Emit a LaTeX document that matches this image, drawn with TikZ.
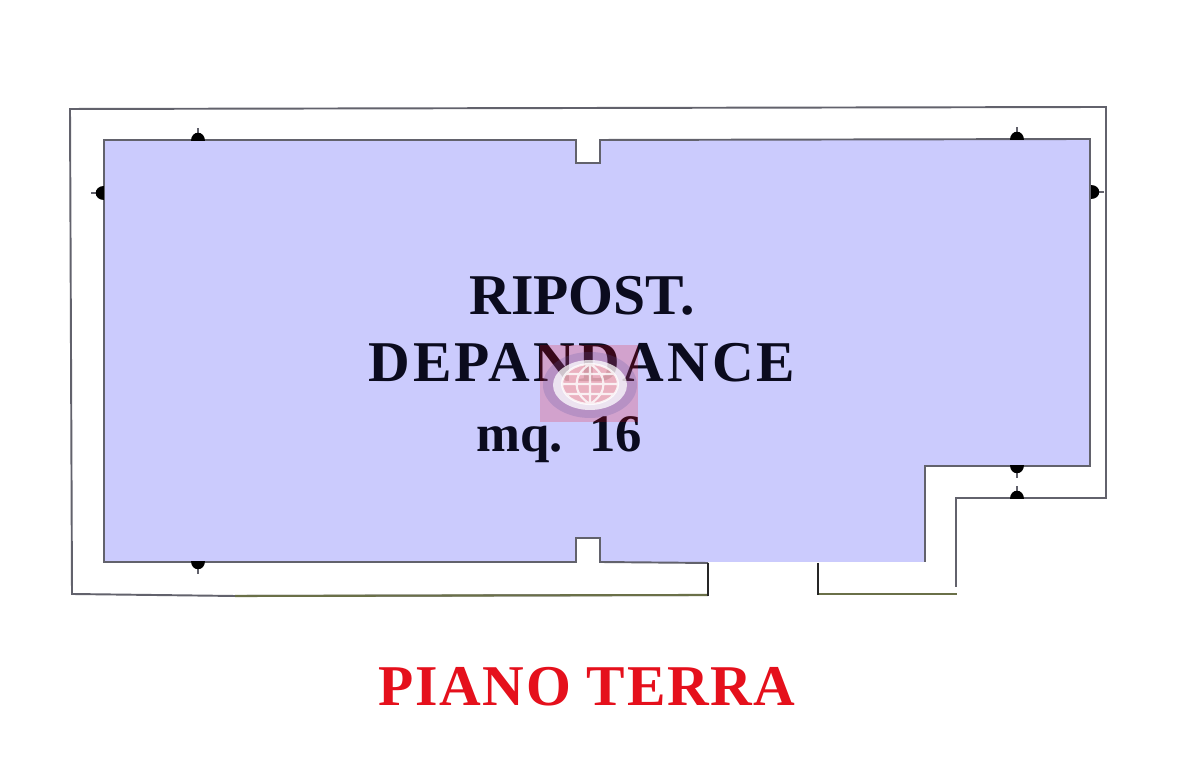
\documentclass[tikz,border=0pt]{standalone}
\usepackage{fontspec}
\setmainfont{Liberation Serif}
\definecolor{roomblue}{HTML}{CBCBFD}
\definecolor{wallgrey}{HTML}{62626C}
\definecolor{wallgreen}{HTML}{6A7048}
\definecolor{inkblack}{HTML}{0B0B1E}
\definecolor{titlered}{HTML}{E5101C}
\tikzset{
  room/.style={fill=roomblue,draw=none},
  wall/.style={draw=wallgrey,line width=0.55pt,line join=miter},
  oldwall/.style={draw=wallgreen,line width=0.6pt},
  jamb/.style={draw=black!85,line width=0.75pt},
  label/.style={anchor=base,inner sep=0pt,text=inkblack,font=\fontsize{16.4}{18}\selectfont\bfseries},
  title/.style={anchor=base,inner sep=0pt,text=titlered,font=\fontsize{16.4}{18}\selectfont\bfseries}
}
\begin{document}
\begin{tikzpicture}[x=0.01cm,y=-0.01cm]

\def\POST#1#2#3{
  \begin{scope}[shift={(#1,#2)},rotate=#3]
    \draw[wallgrey,line width=0.5pt] (0,0) -- (0,-12);
    \fill[black] (-7,1) .. controls (-7,-10) and (7,-10) .. (7,1) -- cycle;
  \end{scope}
}

% page
\path[use as bounding box,fill=white] (0,0) rectangle (1179,768);

% room
\path[room] (104,140) -- (576,140) -- (576,163) -- (600,163) -- (600,140) -- (1090,139)
  -- (1090,466) -- (925,466) -- (925,562) -- (600,562) -- (600,538) -- (576,538)
  -- (576,562) -- (104,562) -- cycle;

% inner wall
\draw[wall] (925,562) -- (925,466) -- (1090,466) -- (1090,139) -- (600,140) -- (600,163)
  -- (576,163) -- (576,140) -- (104,140) -- (104,562) -- (576,562) -- (576,538) -- (600,538)
  -- (600,562) -- (708,563);

% outer wall
\draw[wall] (708,595) -- (235,596) -- (72,594) -- (70,109) -- (1106,107) -- (1106,498)
  -- (956,498) -- (956,587);
\draw[oldwall] (818,594) -- (957,594);
\draw[oldwall] (235,596) -- (708,595);
\draw[jamb] (708,563) -- (708,596);
\draw[jamb] (818,563) -- (818,595);

% posts
\POST{198}{140}{0}
\POST{1017}{139}{0}
\POST{103}{193}{90}
\POST{1092}{192}{-90}
\POST{1017}{466}{180}
\POST{1017}{498}{0}
\POST{198}{562}{180}

% texts
\node[label] (ripost) at (582,315) {RIPOST.};
\node[label] (depandance) at (582,382) {\addfontfeature{LetterSpace=5.2}DEPANDANCE};
\node[label,font=\fontsize{15}{18}\selectfont\bfseries] (area) at (559,452) {mq.\ \ 16};
\node[title] (piano) at (587,706) {\addfontfeature{LetterSpace=2.8}PIANO TERRA};

% watermark
\fill[red!80!purple,opacity=0.2] (540,345) rectangle (638,422);
\fill[blue!30!gray,opacity=0.22] (590,385) ellipse (47 and 33);
\fill[white,opacity=0.75] (590,385) ellipse (37 and 25);
\fill[red!60!purple,opacity=0.22] (590,384) ellipse (28 and 20);
\draw[white,line width=0.6pt,opacity=0.8] (590,384) ellipse (28 and 20) (562,384) -- (618,384)
  (566,374) -- (614,374) (566,394) -- (614,394) (590,364) -- (590,404)
  (590,364) .. controls (572,375) and (572,393) .. (590,404)
  (590,364) .. controls (608,375) and (608,393) .. (590,404);

\end{tikzpicture}
\end{document}
